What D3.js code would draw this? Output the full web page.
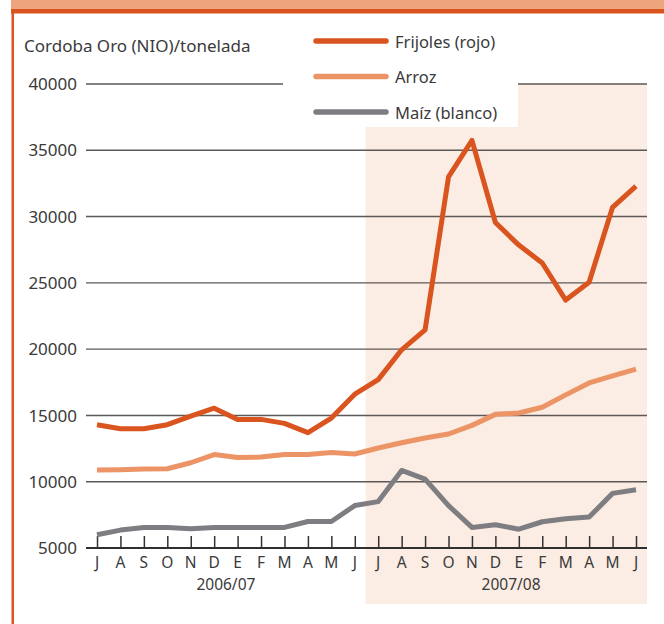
<!DOCTYPE html>
<html>
<head>
<meta charset="utf-8">
<script src="https://cdn.jsdelivr.net/npm/d3@7"></script>
<style>
  body { margin: 0; background: #fff; }
  svg text { font-family: "Noto Sans", sans-serif; fill: #3a3a3a; }
</style>
</head>
<body>
<svg id="chart"></svg>
<script>
// month labels, July 2006 .. June 2008
var months = ["J","A","S","O","N","D","E","F","M","A","M","J",
              "J","A","S","O","N","D","E","F","M","A","M","J"];
var seasons = ["2006/07", "2007/08"];
var yTicks = [5000, 10000, 15000, 20000, 25000, 30000, 35000, 40000];
var seriesNames = ["Frijoles (rojo)", "Arroz", "Maíz (blanco)"];
var seriesColors = ["#d9541e", "#ec9466", "#7e7e82"];

// Cordoba Oro per tonne
var frijoles = [14300, 14000, 14000, 14300, 14950, 15550, 14700, 14700, 14400, 13700, 14800, 16600,
                17700, 19950, 21450, 33000, 35750, 29550, 27850, 26500, 23700, 25050, 30700, 32300];
var arroz    = [10880, 10900, 10950, 10980, 11430, 12050, 11820, 11860, 12050, 12050, 12200, 12090,
                12540, 12940, 13300, 13600, 14250, 15080, 15180, 15620, 16550, 17450, 17980, 18500];
var maiz     = [6000, 6350, 6550, 6550, 6460, 6550, 6550, 6550, 6550, 7000, 7000, 8200,
                8500, 10850, 10200, 8200, 6550, 6750, 6420, 6980, 7200, 7330, 9120, 9400];
var allSeries = [frijoles, arroz, maiz];

var W = 664, H = 624;
var svg = d3.select("#chart").attr("width", W).attr("height", H);

// top band and left rule
svg.append("rect").attr("x", 11).attr("y", 0).attr("width", W - 11).attr("height", 9).attr("fill", "#eea47c");
svg.append("rect").attr("x", 11).attr("y", 9).attr("width", W - 11).attr("height", 4.5).attr("fill", "#d9541e");
svg.append("rect").attr("x", 11.5).attr("y", 9).attr("width", 2.5).attr("height", H - 9).attr("fill", "#d9541e");

var idx = d3.range(months.length);
var x = d3.scalePoint().domain(idx).range([97, 636]);
var y = d3.scaleLinear().domain([5000, 40000]).range([548, 84]);
var left = 86, right = 647;

// shaded 2007/08 season
var step = x.step();
svg.append("rect")
    .attr("x", x(12) - step / 2 - 1)
    .attr("y", y(40000))
    .attr("width", right - (x(12) - step / 2 - 1))
    .attr("height", 604 - y(40000))
    .attr("fill", "#fbede3");

// gridlines
svg.append("g").selectAll("line")
    .data(yTicks.slice(1))
    .join("line")
    .attr("x1", left).attr("x2", right)
    .attr("y1", function(d) { return y(d); })
    .attr("y2", function(d) { return y(d); })
    .attr("stroke", "#5e5858")
    .attr("stroke-width", 1.4);

// y labels
svg.append("g").selectAll("text")
    .data(yTicks)
    .join("text")
    .attr("x", 77)
    .attr("y", function(d) { return y(d); })
    .attr("dy", "0.36em")
    .attr("text-anchor", "end")
    .attr("font-size", 17)
    .text(function(d) { return d; });

svg.append("text")
    .attr("x", 24).attr("y", 52)
    .attr("font-size", 17)
    .text("Cordoba Oro (NIO)/tonelada");

// x axis: baseline, ticks pointing up, month letters
var xAxis = d3.axisTop(x).tickSize(12).tickSizeOuter(0).tickFormat("");
var gx = svg.append("g").attr("transform", "translate(0," + y(5000) + ")").call(xAxis);
gx.select(".domain").remove();
gx.selectAll(".tick line").attr("stroke", "#333").attr("stroke-width", 1.5);
svg.append("line")
    .attr("x1", left).attr("x2", right)
    .attr("y1", y(5000)).attr("y2", y(5000))
    .attr("stroke", "#2f2f2f").attr("stroke-width", 2);

svg.append("g").selectAll("text")
    .data(idx)
    .join("text")
    .attr("x", function(i) { return x(i); })
    .attr("y", 567.5)
    .attr("text-anchor", "middle")
    .attr("font-size", 15.5)
    .text(function(i) { return months[i]; });

svg.append("g").selectAll("text")
    .data(seasons)
    .join("text")
    .attr("x", function(d, k) { return (x(k * 12) + x(k * 12 + 11)) / 2 + k * 4; })
    .attr("y", 589.5)
    .attr("text-anchor", "middle")
    .attr("font-size", 15.5)
    .text(function(d) { return d; });

// legend box
svg.append("rect").attr("x", 283).attr("y", 20).attr("width", 235).attr("height", 107).attr("fill", "#fff");
var lg = svg.append("g").selectAll("g")
    .data(seriesNames)
    .join("g")
    .attr("transform", function(d, i) { return "translate(0," + (41 + i * 35.5) + ")"; });
lg.append("line")
    .attr("x1", 316).attr("x2", 386)
    .attr("stroke", function(d, i) { return seriesColors[i]; })
    .attr("stroke-width", 5.5)
    .attr("stroke-linecap", "round");
lg.append("text")
    .attr("x", 395).attr("y", 6.5)
    .attr("font-size", 16.5)
    .text(function(d) { return d; });

// series lines
var line = d3.line()
    .x(function(d, i) { return x(i); })
    .y(function(d) { return y(d); });

svg.append("g").selectAll("path")
    .data(allSeries)
    .join("path")
    .attr("fill", "none")
    .attr("stroke", function(d, i) { return seriesColors[i]; })
    .attr("stroke-width", 5)
    .attr("stroke-linejoin", "round")
    .attr("d", line);
</script>
</body>
</html>
